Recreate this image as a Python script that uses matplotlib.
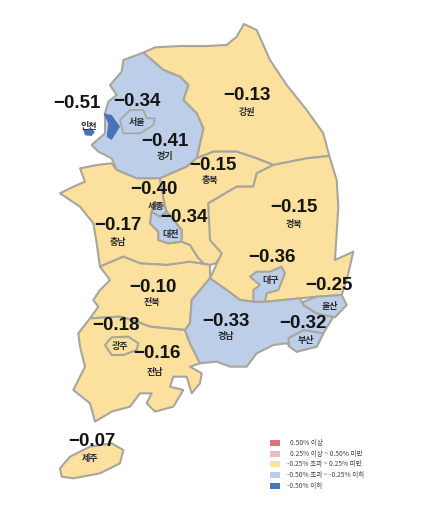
import matplotlib
matplotlib.use("Agg")
import matplotlib.pyplot as plt
from matplotlib.patches import Polygon

plt.rcParams['font.family'] = ['Noto Sans CJK KR', 'DejaVu Sans']

# ---- data ----
regions = ['인천', '서울', '경기', '강원', '충북', '세종', '대전', '충남', '경북',
           '대구', '울산', '전북', '경남', '부산', '광주', '전남', '제주']
values = [-0.51, -0.34, -0.41, -0.13, -0.15, -0.40, -0.34, -0.17, -0.15,
          -0.36, -0.25, -0.10, -0.33, -0.32, -0.18, -0.16, -0.07]
legend_labels = ['0.50% 이상', '0.25% 이상 ~ 0.50% 미만', '-0.25% 초과 ~ 0.25% 미만',
                 '-0.50% 초과 ~ -0.25% 이하', '-0.50% 이하']
legend_colors = ['#E4707C', '#F2B8BC', '#FBE09E', '#BDCEE9', '#4A72B8']

def fill_for(v):
    if v >= 0.5: return legend_colors[0]
    if v >= 0.25: return legend_colors[1]
    if v > -0.25: return legend_colors[2]
    if v > -0.5: return legend_colors[3]
    return legend_colors[4]

def Z1(pts): return [(40 + x / 3, 30 + y / 3) for x, y in pts]
def Z2(pts): return [(40 + x / 3, 230 + y / 3) for x, y in pts]

# region outlines (geography, image pixel coordinates)
outlines = {
 '강원': Z1([(310,68),(345,52),(420,48),(500,48),(560,45),(590,20),(612,-18),(650,0),(690,90),(740,165),(800,240),(850,310),(868,378),
            (800,385),(700,405),(650,385),(590,365),(520,365),(470,385),(490,295),(470,250),(430,210),(445,165),(420,140),(370,120)]),
 '경기': Z1([(310,68),(370,120),(420,140),(445,165),(430,210),(470,250),(490,295),(470,385),(440,410),(360,445),(290,445),(230,420),
            (215,385),(175,365),(155,345),(195,310),(195,250),(205,215),(230,195),(210,165),(245,125),(250,90)]),
 '충북': Z1([(470,385),(520,365),(590,365),(650,385),(700,405),(650,430),(640,470),(590,470),(505,520),(510,600),(528,640),(550,670),
            (527,700),(510,705),(490,700),(472,680),(450,645),(425,635),(425,600),(380,545),(375,530),(360,445),(440,410)]),
 '충남': Z1([(120,415),(170,405),(215,400),(230,420),(290,445),(360,445),(375,530),(345,520),(335,545),(330,580),(355,605),(355,630),
            (385,640),(425,635),(450,645),(472,680),(490,700),(440,700),(380,705),(300,700),(250,680),(180,710),(170,640),
            (160,580),(120,530),(60,490),(100,470),(135,455)]),
 '세종': Z1([(345,520),(375,530),(380,545),(360,560),(335,545)]),
 '대전': Z1([(335,545),(360,560),(380,545),(425,600),(425,635),(385,640),(355,630),(355,605),(330,580)]),
 '경북': Z1([(868,378),(890,450),(895,530),(885,690)]) + Z2([(885,90),(940,65),(925,130),(905,195),(830,200),(780,205),(680,215),
            (640,215),(600,210),(560,180),(510,145),(545,70),(510,30)]) + Z1([(505,520),(590,470),(640,470),(650,430),(700,405),(800,385)]),
 '대구': Z2([(630,140),(650,125),(690,125),(725,110),(735,130),(715,180),(680,190),(675,215),(640,215),(640,180),(660,165)]),
 '전북': Z2([(180,110),(250,80),(300,100),(380,105),(450,95),(510,105),(510,145),(455,210),(450,280),(435,300),(380,295),(330,290),
            (290,275),(240,260),(150,265),(175,230),(160,210),(180,180),(210,150),(195,130)]),
 '전남': Z2([(150,265),(240,260),(290,275),(330,290),(380,295),(435,300),(450,340),(480,400),(450,410),(485,430),(480,460),(455,490),
            (440,440),(400,440),(390,470),(430,480),(400,530),(345,545),(320,520),(335,490),(300,490),(270,530),(215,545),(165,575),
            (150,520),(100,480),(135,410),(120,350),(115,310)]),
 '광주': Z2([(195,345),(215,322),(265,320),(295,340),(290,360),(250,375),(215,375)]),
 '경남': Z2([(510,145),(560,180),(600,210),(640,215),(680,215),(780,205),(790,225),(830,250),(880,260),(850,310),(830,350),(770,365),
            (740,340),(700,345),(650,370),(620,410),(570,410),(530,395),(480,400),(450,340),(435,300),(450,280),(455,210)]),
 '울산': Z2([(790,215),(830,200),(905,195),(920,225),(885,262),(830,250),(790,225)]),
 '부산': Z2([(745,325),(790,300),(850,310),(830,350),(770,365),(748,350)]),
 '제주': Z2([(60,715),(90,680),(150,650),(215,640),(250,660),(240,700),(180,730),(100,745),(65,740)]),
}
incheon_main = Z1([(190,250),(215,255),(240,290),(215,330),(200,320),(205,280)])
incheon_isle = Z1([(130,300),(150,295),(165,305),(155,318),(135,316)])

value_pos = {'인천':(77,103),'서울':(137,101),'경기':(165,141),'강원':(247,96),'충북':(213,165),'세종':(154,189),
             '대전':(184,218),'충남':(118,226),'경북':(294,207),'대구':(272,258),'울산':(329,285),'전북':(153,287),
             '경남':(226,322),'부산':(303,324),'광주':(116,325),'전남':(157,354),'제주':(92,441)}
name_pos = {'인천':(89,127),'서울':(137,122),'경기':(165,156),'강원':(247,113),'충북':(210,181),'세종':(156,207),
            '대전':(171,234),'충남':(118,243),'경북':(294,224),'대구':(271,280),'울산':(330,306),'전북':(152,302),
            '경남':(226,337),'부산':(306,341),'광주':(120,346),'전남':(155,372),'제주':(90,459)}

fig = plt.figure(figsize=(4.23, 5.28), dpi=100)
ax = fig.add_axes([0, 0, 1, 1])
ax.set_xlim(0, 423)
ax.set_ylim(528, 0)
ax.axis('off')

border = '#A8A69C'
lookup = dict(zip(regions, values))
draw_order = ['강원','경기','충남','충북','경북','전북','전남','경남','대전','세종','대구','울산','부산','광주','제주']
for r in draw_order:
    ax.add_patch(Polygon(outlines[r], closed=True, fc=fill_for(lookup[r]), ec=border, lw=1.5, joinstyle='round'))
# Seoul sits inside Gyeonggi
ax.add_patch(Polygon(Z1([(240,270),(270,240),(310,240),(320,265),(345,265),(340,285),(300,310),(250,310)]),
                     closed=True, fc=fill_for(lookup['서울']), ec=border, lw=1.2, joinstyle='round'))
for pts in (incheon_main, incheon_isle):
    ax.add_patch(Polygon(pts, closed=True, fc=fill_for(lookup['인천']), ec='none'))

for r, v in zip(regions, values):
    x, y = value_pos[r]
    ax.text(x, y, f'\u2212{abs(v):.2f}', family='Liberation Sans', fontweight='bold', fontsize=13.5,
            ha='center', va='center', color='#141414')
    x, y = name_pos[r]
    ax.text(x, y, r, fontsize=6.5, fontweight='bold', ha='center', va='center', color='#2A2A2A')

for i, (lab, col) in enumerate(zip(legend_labels, legend_colors)):
    y = [443, 454, 464, 475, 486][i]
    ax.add_patch(plt.Rectangle((270, y - 3), 10, 6, fc=col, ec='none'))
    ax.text([290, 290, 287, 287, 287][i], y, lab, fontsize=4.8, ha='left', va='center', color='#444444', fontweight='medium')

fig.savefig('out.png', dpi=100)
